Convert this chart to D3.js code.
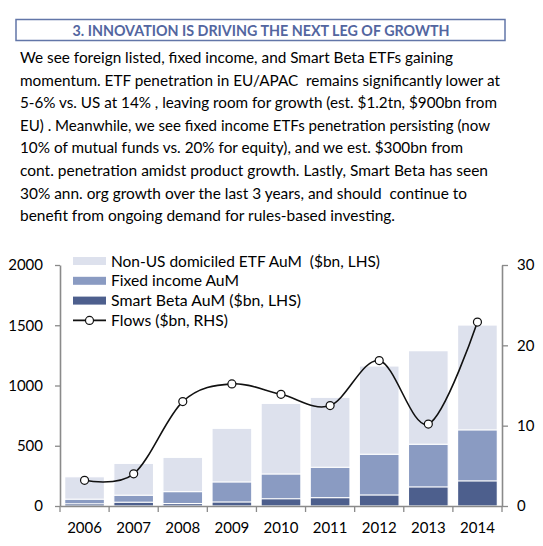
<!DOCTYPE html>
<html>
<head>
<meta charset="utf-8">
<script src="https://cdn.jsdelivr.net/npm/d3@7"></script>
<style>
  html, body { margin: 0; padding: 0; background: #fff; }
  svg { display: block; font-family: Lato, "Open Sans", "DejaVu Sans", sans-serif; }
</style>
</head>
<body>
<svg id="chart" width="543" height="546"></svg>
<script>
// ---------- data ----------
const years = ["2006","2007","2008","2009","2010","2011","2012","2013","2014"];
const nonUsAum = [243, 354, 404, 645, 852, 902, 1162, 1289, 1502];   // $bn, LHS (total bar height)
const fixedIncomeAum = [56, 89, 119, 199, 265, 321, 429, 512, 631];  // $bn, LHS
const smartBetaAum = [18, 31, 20, 33, 60, 69, 91, 158, 208];           // $bn, LHS
const flows = [3.2, 4.0, 13.0, 15.2, 13.9, 12.5, 18.1, 10.2, 22.9];   // $bn, RHS
const leftTicks = [0, 500, 1000, 1500, 2000];
const rightTicks = [0, 10, 20, 30];
const seriesNames = ["Non-US domiciled ETF AuM  ($bn, LHS)", "Fixed income AuM", "Smart Beta AuM ($bn, LHS)", "Flows ($bn, RHS)"];
const legendWidths = [269, 128, 190, 117];
const titleText = "3. INNOVATION IS DRIVING THE NEXT LEG OF GROWTH";
const paragraph = [
  "We see foreign listed, fixed income, and Smart Beta ETFs gaining",
  "momentum. ETF penetration in EU/APAC  remains significantly lower at",
  "5-6% vs. US at 14% , leaving room for growth (est. $1.2tn, $900bn from",
  "EU) . Meanwhile, we see fixed income ETFs penetration persisting (now",
  "10% of mutual funds vs. 20% for equity), and we est. $300bn from",
  "cont. penetration amidst product growth. Lastly, Smart Beta has seen",
  "30% ann. org growth over the last 3 years, and should  continue to",
  "benefit from ongoing demand for rules-based investing."
];
const paragraphWidths = [433, 480, 477, 470, 443, 468, 447, 375];

// ---------- styles ----------
const colors = { light: "#dde1ed", mid: "#8a9bc2", dark: "#4d5f8d", title: "#5366a0", axis: "#8a8a8a" };

const svg = d3.select("#chart");

// ---------- title box ----------
svg.append("rect").attr("x", 16).attr("y", 19.5).attr("width", 489).attr("height", 21)
  .attr("fill", "none").attr("stroke", "#6276a8").attr("stroke-width", 1.5);
svg.append("text").attr("x", 261).attr("y", 35.5).attr("text-anchor", "middle")
  .attr("font-size", 15).attr("font-weight", "bold").attr("fill", colors.title)
  .attr("textLength", 377).attr("lengthAdjust", "spacingAndGlyphs")
  .text(titleText);

// ---------- paragraph ----------
svg.append("g").selectAll("text").data(paragraph).join("text")
  .attr("x", 20).attr("y", (d, i) => 63 + i * 22.6)
  .attr("font-size", 16.2).attr("fill", "#000")
  .attr("textLength", (d, i) => paragraphWidths[i]).attr("lengthAdjust", "spacingAndGlyphs")
  .style("white-space", "pre")
  .text(d => d);

// ---------- scales ----------
const x = d3.scaleBand().domain(years).range([60, 502]).paddingInner(0.19).paddingOuter(0.095);
const yL = d3.scaleLinear().domain([0, 2000]).range([506, 265]);
const yR = d3.scaleLinear().domain([0, 30]).range([506, 265]);

// ---------- bars (overlapping, each from zero) ----------
const barLayers = [
  { values: nonUsAum, color: colors.light },
  { values: fixedIncomeAum, color: colors.mid },
  { values: smartBetaAum, color: colors.dark }
];
barLayers.forEach(layer => {
  svg.append("g").selectAll("rect").data(years).join("rect")
    .attr("x", d => x(d))
    .attr("width", x.bandwidth())
    .attr("y", (d, i) => yL(layer.values[i]))
    .attr("height", (d, i) => yL(0) - yL(layer.values[i]))
    .attr("fill", layer.color)
    .attr("stroke", "#fff").attr("stroke-width", 1.2);
});

// ---------- axes ----------
const axisFont = 15;
const gL = svg.append("g").attr("transform", "translate(60,0)")
  .call(d3.axisLeft(yL).tickValues(leftTicks).tickFormat(d3.format("d")).tickSize(5).tickSizeOuter(0).tickPadding(12));
const gR = svg.append("g").attr("transform", "translate(502,0)")
  .call(d3.axisRight(yR).tickValues(rightTicks).tickFormat(d3.format("d")).tickSize(6).tickSizeOuter(0).tickPadding(9));
const gB = svg.append("g").attr("transform", "translate(0,506)")
  .call(d3.axisBottom(x).tickSize(0).tickSizeOuter(0).tickPadding(16));
[gL, gR, gB].forEach(g => {
  g.select(".domain").attr("stroke", colors.axis).attr("stroke-width", 1.6);
  g.selectAll(".tick line").attr("stroke", colors.axis).attr("stroke-width", 1.3);
  g.selectAll(".tick text").attr("font-size", axisFont).attr("fill", "#000")
    .attr("font-family", "Lato, 'Open Sans', sans-serif");
});
// category boundary ticks on the x axis
const step = x.step();
const boundaries = years.map(d => x(d) - step * x.paddingInner() / 2).concat([x.range()[1]]);
svg.append("g").selectAll("line").data(boundaries).join("line")
  .attr("x1", d => d).attr("x2", d => d).attr("y1", 506).attr("y2", 512)
  .attr("stroke", colors.axis).attr("stroke-width", 1.3);

// ---------- flows line ----------
const linePts = years.map((d, i) => [x(d) + x.bandwidth() / 2, yR(flows[i])]);
svg.append("path").datum(linePts)
  .attr("d", d3.line().curve(d3.curveCardinal))
  .attr("fill", "none").attr("stroke", "#111").attr("stroke-width", 1.6);
svg.append("g").selectAll("circle").data(linePts).join("circle")
  .attr("cx", d => d[0]).attr("cy", d => d[1]).attr("r", 4)
  .attr("fill", "#fff").attr("stroke", "#111").attr("stroke-width", 1.2);

// ---------- legend ----------
const lg = svg.append("g").attr("transform", "translate(73,256)");
const swatchColors = [colors.light, colors.mid, colors.dark];
seriesNames.forEach((name, i) => {
  const cy = i * 19.8 + 5;
  if (i < 3) {
    lg.append("rect").attr("x", 0).attr("y", cy - 4).attr("width", 33).attr("height", 8).attr("fill", swatchColors[i]);
  } else {
    lg.append("line").attr("x1", 0).attr("x2", 33).attr("y1", cy).attr("y2", cy).attr("stroke", "#111").attr("stroke-width", 1.6);
    lg.append("circle").attr("cx", 16.5).attr("cy", cy).attr("r", 4).attr("fill", "#fff").attr("stroke", "#111").attr("stroke-width", 1.2);
  }
  lg.append("text").attr("x", 38).attr("y", cy + 5.5).attr("font-size", 16).attr("fill", "#000")
    .attr("textLength", legendWidths[i]).attr("lengthAdjust", "spacingAndGlyphs")
    .style("white-space", "pre").text(name);
});
</script>
</body>
</html>
